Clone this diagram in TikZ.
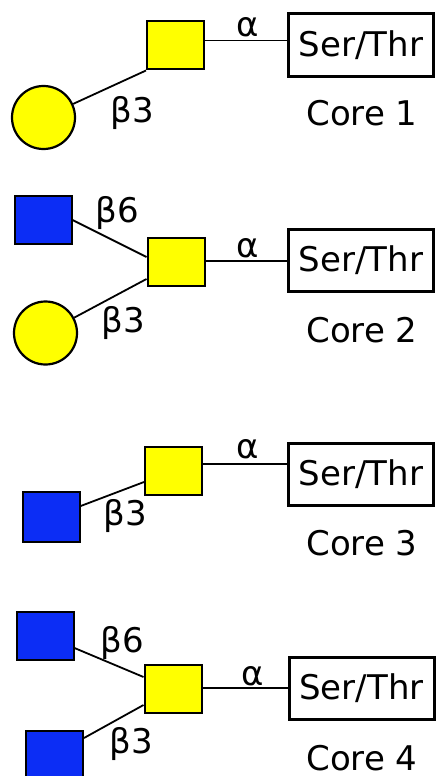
\documentclass[tikz,border=0pt]{standalone}
\usepackage{fontspec}
\setmainfont{DejaVu Sans}
\usetikzlibrary{calc}
\definecolor{gyel}{RGB}{255,255,0}
\definecolor{gblue}{RGB}{12,45,245}
\begin{document}
\begin{tikzpicture}[x=1pt,y=-1pt,
  font=\fontsize{34}{40}\selectfont,
  sugar/.style={draw=black,line width=2pt,inner sep=0pt,minimum width=57pt,minimum height=48pt},
  galnac/.style={sugar,fill=gyel},
  glcnac/.style={sugar,fill=gblue},
  gal/.style={circle,draw=black,line width=2.2pt,fill=gyel,inner sep=0pt,minimum size=63pt},
  aa/.style={draw=black,line width=3pt,inner sep=0pt,minimum width=145pt,minimum height=62pt},
  link/.style={line width=1.8pt},
  lbl/.style={anchor=base,inner sep=0pt}]
\fill[white] (0,0) rectangle (438,776);
\useasboundingbox (0,0) rectangle (438,776);

% ---------- Core 1 ----------
\node[galnac] (y1) at (175.5,45.5) {};
\node[gal] (c1) at (43.5,117.5) {};
\node[aa] (s1) at (361,45) {Ser/Thr};
\coordinate (y1r) at ($(y1.north east)!0.4!(y1.south east)$);
\draw[link] (c1) -- (y1.south west);
\draw[link] (y1r) -- (y1r -| s1.west);
\node[lbl] (a1) at (248,37) {α};
\node[lbl] (b13) at (132,122) {β3};
\node[lbl] (k1) at (362,125) {Core 1};

% ---------- Core 2 ----------
\node[glcnac] (b2) at (43,220) {};
\node[galnac] (y2) at (176,262) {};
\node[gal] (c2) at (45.5,333) {};
\node[aa] (s2) at (361,260.5) {Ser/Thr};
\coordinate (y2a) at ($(y2.north west)!0.4!(y2.south west)$);
\coordinate (y2b) at ($(y2.north west)!0.84!(y2.south west)$);
\coordinate (y2r) at ($(y2.north east)!0.48!(y2.south east)$);
\draw[link] (b2.east) -- (y2a);
\draw[link] (c2) -- (y2b);
\draw[link] (y2r) -- (y2r -| s2.west);
\node[lbl] (a2) at (248,257) {α};
\node[lbl] (b26) at (117,222) {β6};
\node[lbl] (b23) at (123,332) {β3};
\node[lbl] (k2) at (362,342) {Core 2};

% ---------- Core 3 ----------
\node[galnac] (y3) at (173.5,471) {};
\node[glcnac,minimum height=50pt] (b3) at (51,517) {};
\node[aa] (s3) at (361,474) {Ser/Thr};
\coordinate (b3r) at ($(b3.north east)!0.29!(b3.south east)$);
\coordinate (y3l) at ($(y3.north west)!0.72!(y3.south west)$);
\coordinate (y3r) at ($(y3.north east)!0.36!(y3.south east)$);
\draw[link] (b3r) -- (y3l);
\draw[link] (y3r) -- (y3r -| s3.west);
\node[lbl] (a3) at (248,458) {α};
\node[lbl] (b33) at (125,525) {β3};
\node[lbl] (k3) at (362,555) {Core 3};

% ---------- Core 4 ----------
\node[glcnac] (b4a) at (45,636) {};
\node[galnac] (y4) at (173,689) {};
\node[glcnac] (b4b) at (54.5,755) {};
\node[aa] (s4) at (361.5,688) {Ser/Thr};
\coordinate (b4ar) at ($(b4a.north east)!0.74!(b4a.south east)$);
\coordinate (b4br) at ($(b4b.north east)!0.16!(b4b.south east)$);
\coordinate (y4a) at ($(y4.north west)!0.26!(y4.south west)$);
\coordinate (y4b) at ($(y4.north west)!0.82!(y4.south west)$);
\coordinate (y4r) at ($(y4.north east)!0.48!(y4.south east)$);
\draw[link] (b4ar) -- (y4a);
\draw[link] (b4br) -- (y4b);
\draw[link] (y4r) -- (y4r -| s4.west);
\node[lbl] (a4) at (253,685) {α};
\node[lbl] (b46) at (122,652) {β6};
\node[lbl] (b43) at (131,753) {β3};
\node[lbl] (k4) at (362,770) {Core 4};
\end{tikzpicture}
\end{document}
